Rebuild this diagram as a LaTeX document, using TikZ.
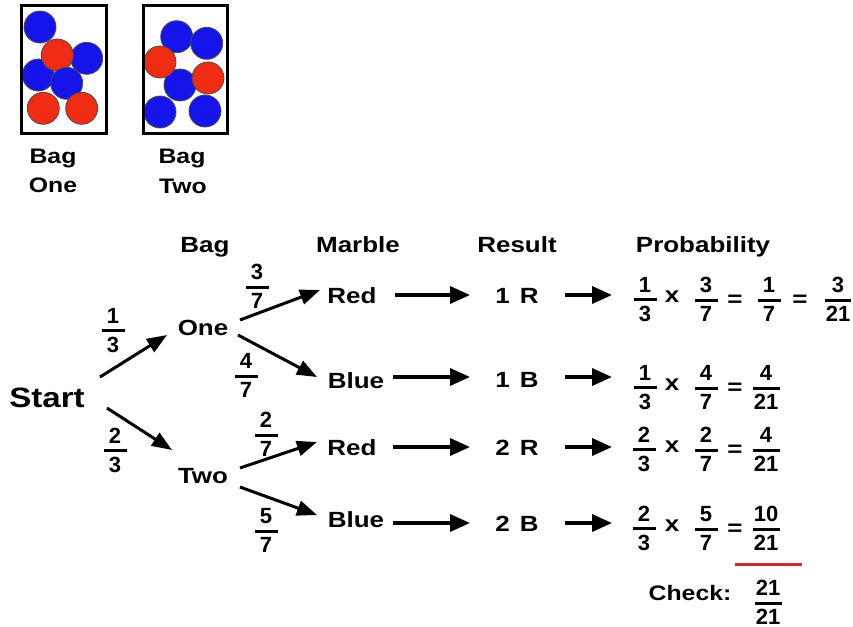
\documentclass[tikz,border=0pt]{standalone}
\usepackage{fontspec}
\setmainfont{Liberation Sans}[FakeStretch=1.18]
\newfontfamily\numf{Liberation Sans}
\usetikzlibrary{arrows.meta}
\definecolor{mblue}{RGB}{20,20,235}
\definecolor{mred}{RGB}{240,45,20}
\definecolor{chk}{RGB}{205,45,45}
\newcommand\fr[3][23pt]{{\numf\bfseries\fontsize{22}{26}\selectfont\setlength\arrayrulewidth{3pt}\renewcommand\arraystretch{0}\begin{tabular}{@{}c@{}}\rule[-6pt]{0pt}{22pt}\makebox[#1]{#2}\\\hline\rule{0pt}{20pt}\makebox[#1]{#3}\end{tabular}}}
\begin{document}
\begin{tikzpicture}[x=1pt,y=-1pt,
  txt/.style={inner sep=0pt,anchor=base,font=\bfseries\fontsize{22}{26}\selectfont},
  lbl/.style={inner sep=0pt,anchor=base,font=\bfseries\fontsize{21}{25}\selectfont},
  frn/.style={inner sep=0pt},
  ball/.style={fill=#1,draw=black!70,line width=0.8pt},
  arr/.style={line width=3pt,-{Triangle[length=20pt,width=15pt]}},
  harr/.style={line width=3.5pt,-{Triangle[length=20pt,width=17pt]}}]
\useasboundingbox[fill=white] (0,0) rectangle (853,626);
% bag one
\filldraw[ball=mblue] (40,27) circle[radius=16];
\filldraw[ball=mblue] (86.7,58.3) circle[radius=16];
\filldraw[ball=mblue] (38.3,75) circle[radius=16];
\filldraw[ball=mred] (57.3,55) circle[radius=16];
\filldraw[ball=mred] (43.3,108.3) circle[radius=16];
\filldraw[ball=mblue] (66.7,83.3) circle[radius=16];
\filldraw[ball=mred] (81.7,108.3) circle[radius=16];
\draw[line width=3pt] (21,6) rectangle (106,133);
% bag two
\filldraw[ball=mblue] (176.7,36.7) circle[radius=16];
\filldraw[ball=mblue] (206.7,43.3) circle[radius=16];
\filldraw[ball=mblue] (180,85) circle[radius=16];
\filldraw[ball=mred] (160,62) circle[radius=16];
\filldraw[ball=mred] (208,78) circle[radius=16];
\filldraw[ball=mblue] (160,112) circle[radius=16];
\filldraw[ball=mblue] (205,111) circle[radius=16];
\draw[line width=3pt] (143,6) rectangle (227,133);
\node[lbl] (l1a) at (53,163) {Bag};
\node[lbl] (l1b) at (53,192) {One};
\node[lbl] (l2a) at (182,163) {Bag};
\node[lbl] (l2b) at (183,193) {Two};
% headers
\node[txt] (hbag) at (205,252) {Bag};
\node[txt] (hmar) at (358,252) {Marble};
\node[txt] (hres) at (517,252) {Result};
\node[txt] (hprob) at (703,252) {Probability};
% tree
\node[txt,font=\bfseries\fontsize{28}{32}\selectfont] (start) at (47,407) {Start};
\node[txt] (one) at (203,335) {One};
\node[txt] (two) at (203,483) {Two};
\node[txt] (red1) at (352,303) {Red};
\node[txt] (blue1) at (356,388) {Blue};
\node[txt] (red2) at (352,455) {Red};
\node[txt] (blue2) at (356,527) {Blue};
\node[txt] (r1) at (517,303) {1\hspace{0.45em}R};
\node[txt] (b1) at (517,387) {1\hspace{0.45em}B};
\node[txt] (r2) at (517,455) {2\hspace{0.45em}R};
\node[txt] (b2) at (517,531) {2\hspace{0.45em}B};
\node[frn] (f13) at (113,330) {\fr{1}{3}};
\node[frn] (f37) at (257,286) {\fr{3}{7}};
\node[frn] (f47) at (246,375) {\fr{4}{7}};
\node[frn] (f23) at (115,450) {\fr{2}{3}};
\node[frn] (f27) at (266,434) {\fr{2}{7}};
\node[frn] (f57) at (266,530) {\fr{5}{7}};
% probability rows
\node[frn] (p1a) at (645,299) {\fr{1}{3}};
\node[txt] (p1x) at (672,302) {x};
\node[frn] (p1b) at (706,299) {\fr{3}{7}};
\node[txt] (p1e) at (735,306) {=};
\node[frn] (p1c) at (769,299) {\fr{1}{7}};
\node[txt] (p1f) at (800,306) {=};
\node[frn] (p1d) at (838,299) {\fr[26pt]{3}{21}};
\node[frn] (p2a) at (645,387) {\fr{1}{3}};
\node[txt] (p2x) at (672,390) {x};
\node[frn] (p2b) at (706,387) {\fr{4}{7}};
\node[txt] (p2e) at (735,394) {=};
\node[frn] (p2c) at (766,387) {\fr[27pt]{4}{21}};
\node[frn] (p3a) at (644,449) {\fr{2}{3}};
\node[txt] (p3x) at (672,452) {x};
\node[frn] (p3b) at (706,449) {\fr{2}{7}};
\node[txt] (p3e) at (735,456) {=};
\node[frn] (p3c) at (766,449) {\fr[27pt]{4}{21}};
\node[frn] (p4a) at (644,528) {\fr{2}{3}};
\node[txt] (p4x) at (672,531) {x};
\node[frn] (p4b) at (706,528) {\fr{5}{7}};
\node[txt] (p4e) at (735,535) {=};
\node[frn] (p4c) at (766,528) {\fr[27pt]{10}{21}};
\draw[chk,line width=3pt] (735,564) -- (802,564);
\node[lbl] (check) at (690,600) {Check:};
\node[frn] (fchk) at (768,602) {\fr[27pt]{21}{21}};
% arrows
\draw[arr] ([shift={(53,-30)}]start.base) -- ([shift={(-36,0)}]one.base);
\draw[arr] ([shift={(60,1)}]start.base) -- ([shift={(-31,-33)}]two.base);
\draw[arr] ([shift={(37,-15)}]one.base) -- ([shift={(-32,-13)}]red1.base);
\draw[arr] ([shift={(35,0)}]one.base) -- ([shift={(-39,-11)}]blue1.base);
\draw[arr] ([shift={(37,-15)}]two.base) -- ([shift={(-35,-13)}]red2.base);
\draw[arr] ([shift={(37,4)}]two.base) -- ([shift={(-39,-12)}]blue2.base);
\draw[harr] ([shift={(43,-8)}]red1.base) -- ([shift={(-47,-8)}]r1.base);
\draw[harr] ([shift={(37,-11)}]blue1.base) -- ([shift={(-47,-10)}]b1.base);
\draw[harr] ([shift={(41,-8)}]red2.base) -- ([shift={(-47,-8)}]r2.base);
\draw[harr] ([shift={(37,-4)}]blue2.base) -- ([shift={(-47,-8)}]b2.base);
\draw[harr] ([shift={(48,-8)}]r1.base) -- ([shift={(-33,-4)}]p1a.center);
\draw[harr] ([shift={(48,-10)}]b1.base) -- ([shift={(-33,-10)}]p2a.center);
\draw[harr] ([shift={(48,-8)}]r2.base) -- ([shift={(-32,-2)}]p3a.center);
\draw[harr] ([shift={(48,-8)}]b2.base) -- ([shift={(-32,-5)}]p4a.center);
\end{tikzpicture}
\end{document}
